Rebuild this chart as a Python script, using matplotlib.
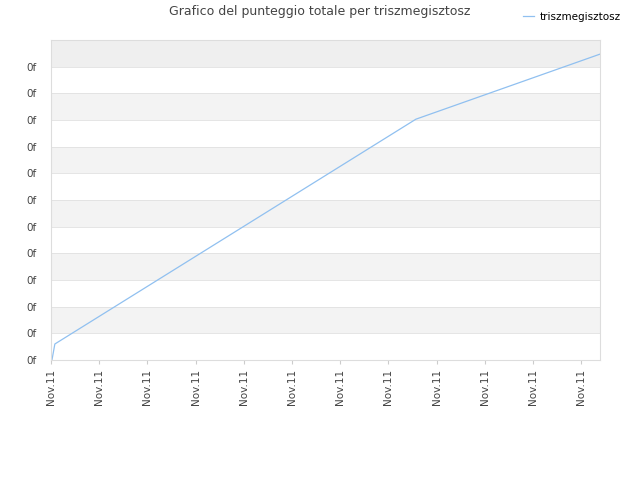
import matplotlib
matplotlib.use("Agg")
import matplotlib.pyplot as plt

x_vals = [0.02, 0.08, 7.57, 11.39]
y_vals = [0.0, 0.6, 9.03, 11.47]
x_ticks = list(range(12))
x_labels = ["Nov.11"] * 12
y_ticks = list(range(12))
y_labels = ["0f"] * 12
series_name = "triszmegisztosz"

fig = plt.figure(figsize=(6.4, 4.8), dpi=100)
ax = fig.add_axes([51/640, 1-360/480, 549/640, 320/480])
ax.set_xlim(0, 11.39)
ax.set_ylim(0, 12)
for i in range(12):
    if i % 2 == 1:
        ax.axhspan(i, i+1, color="#efefef" if i == 11 else "#f3f3f3", zorder=0, lw=0)
    ax.axhline(i, color="#e0e0e0", lw=0.6, zorder=0.5)
ax.plot(x_vals, y_vals, color="#90c0f0", lw=0.9, label=series_name)
ax.set_xticks(x_ticks)
ax.set_xticklabels(x_labels, rotation=90, fontsize=7.5, color="#444444")
ax.set_yticks(y_ticks)
ax.set_yticklabels(y_labels, fontsize=7.5, color="#444444")
ax.tick_params(axis="y", length=0, pad=10)
ax.tick_params(axis="x", length=3, color="#cccccc")
for s in ax.spines.values():
    s.set_color("#dddddd")
fig.text(0.5, 1-12/480, "Grafico del punteggio totale per triszmegisztosz", ha="center", va="center", fontsize=9, color="#444444")
fig.legend(loc="upper right", bbox_to_anchor=(0.985, 0.995), frameon=False, fontsize=7.5, handlelength=1.0, handletextpad=0.6)
fig.savefig("out.png", dpi=100)
